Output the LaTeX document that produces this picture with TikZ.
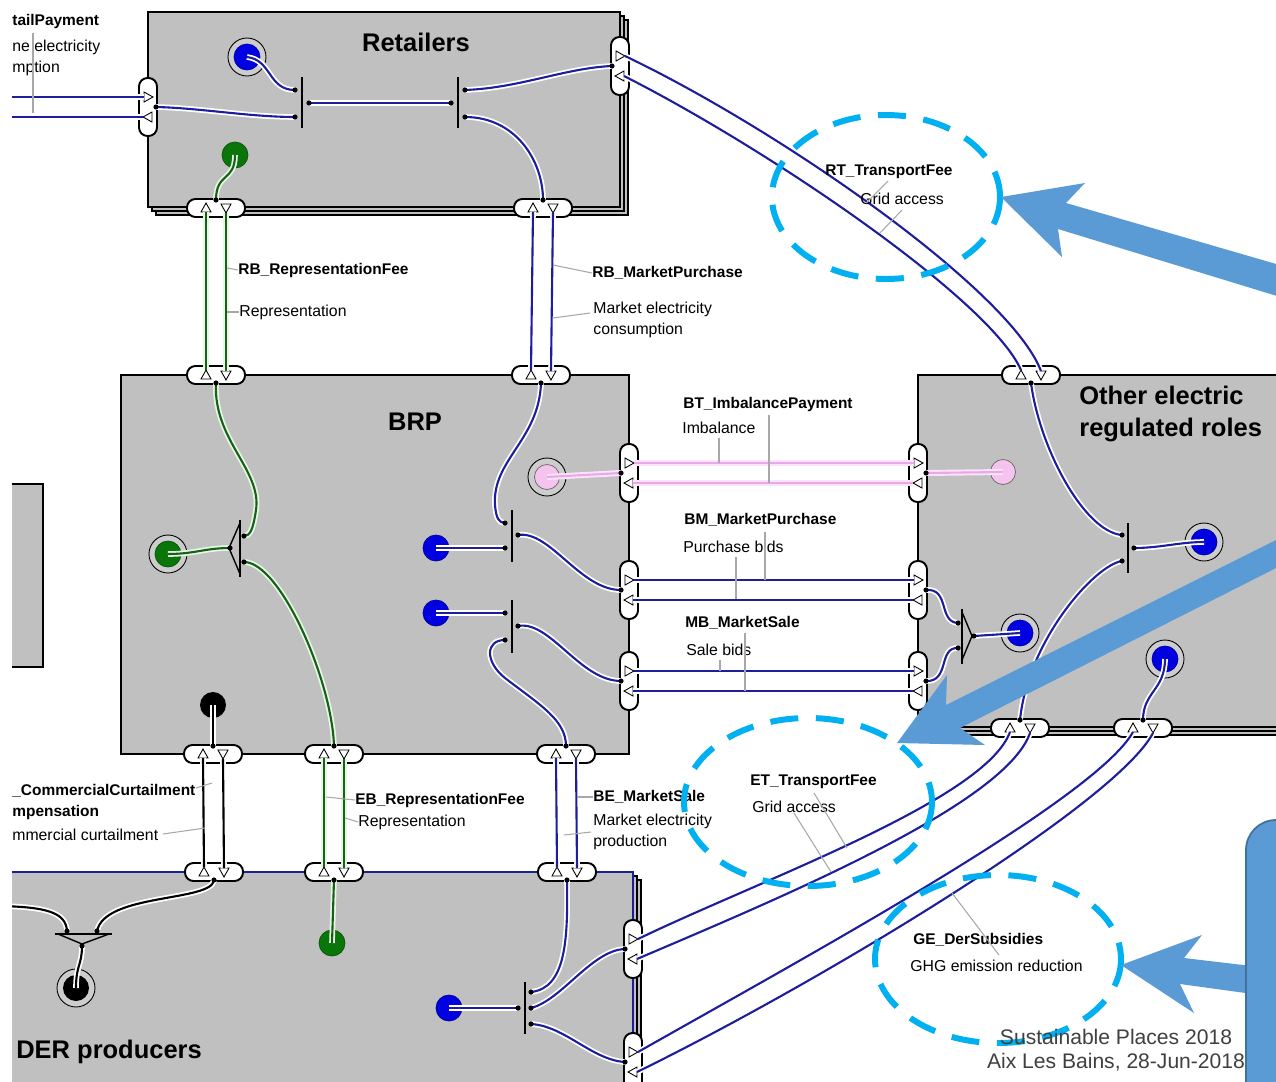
\documentclass[tikz,border=0pt]{standalone}
\usepackage{fontspec}
\setmainfont{Liberation Sans}
\usetikzlibrary{calc}
\definecolor{boxgray}{HTML}{C0C0C0}
\definecolor{ringgray}{HTML}{CDCDCD}
\definecolor{lblue}{HTML}{1E1E9C}
\definecolor{cblue}{HTML}{0000E0}
\definecolor{cgreen}{HTML}{0A760A}
\definecolor{lgreen}{HTML}{1A5E1A}
\definecolor{pgreen}{HTML}{E4F8E4}
\definecolor{cpink}{HTML}{F4C4EE}
\definecolor{lpink}{HTML}{E9A9E9}
\definecolor{ppink}{HTML}{FBE4FB}
\definecolor{ecyan}{HTML}{00B0F0}
\definecolor{abl}{HTML}{5B9BD5}
\definecolor{abd}{HTML}{41719C}
\definecolor{leadc}{HTML}{A8A8A8}
\definecolor{footc}{HTML}{404040}
\newcommand\jd[1]{\fill[black] (#1) circle (2.6);}
\begin{document}
\begin{tikzpicture}[x=0.02cm,y=-0.02cm,
  rolebox/.style={fill=boxgray,draw=black,line width=1.1pt},
  shadowbox/.style={fill=boxgray,draw=black,line width=0.7pt},
  pillh/.style={draw=black,fill=white,line width=1.1pt,rounded corners=0.17cm,minimum width=1.16cm,minimum height=0.36cm,inner sep=0},
  pillv/.style={draw=black,fill=white,line width=1.1pt,rounded corners=0.17cm,minimum width=0.36cm,minimum height=1.16cm,inner sep=0},
  tria/.style={draw=black,fill=white,line width=0.5pt},
  bl/.style={draw=lblue,line width=1.2pt,preaction={draw=white,line width=3.2pt}},
  gl/.style={draw=lgreen,line width=1.2pt,preaction={draw=pgreen,line width=3.2pt}},
  pl/.style={draw=lpink,line width=1.2pt,preaction={draw=ppink,line width=3.4pt}},
  kl/.style={draw=black,line width=1.2pt,preaction={draw=white,line width=3.2pt}},
  ringc/.style={circle,draw=black,line width=0.5pt,fill=ringgray,minimum size=0.76cm,inner sep=0},
  cb/.style={circle,fill=cblue,draw=cblue!70!black,line width=0.4pt,minimum size=0.52cm,inner sep=0},
  cg/.style={circle,fill=cgreen,draw=cgreen!70!black,line width=0.4pt,minimum size=0.52cm,inner sep=0},
  cp/.style={circle,fill=cpink,draw=black!60,line width=0.4pt,minimum size=0.5cm,inner sep=0},
  ck/.style={circle,fill=black,minimum size=0.52cm,inner sep=0},
  jbar/.style={draw=black,line width=0.8pt},
  lab/.style={font=\bfseries\fontsize{8.8}{11.9}\selectfont,inner sep=0,anchor=west},
  sublab/.style={font=\fontsize{9}{11.9}\selectfont,inner sep=0,anchor=west},
  ttl/.style={font=\bfseries\fontsize{14.5}{18.7}\selectfont,inner sep=0},
  leader/.style={draw=leadc,line width=0.6pt},
  ell/.style={draw=ecyan,line width=3.4pt,dash pattern=on 16pt off 10pt},
  hport/.pic={
    \node[pillh] (-p) at (0,0) {};
    \draw[tria] (-15,4) -- (-5,4) -- (-10,-5) -- cycle;
    \draw[tria] (5,-4) -- (15,-4) -- (10,5) -- cycle;
    \coordinate (-n) at (0,-8); \coordinate (-s) at (0,8);
    \coordinate (-ua) at (-10,-5); \coordinate (-da) at (-10,4);
    \coordinate (-ub) at (10,-4); \coordinate (-db) at (10,5);
  },
  vport/.pic={
    \node[pillv] (-p) at (0,0) {};
    \draw[tria] (-4,-15) -- (-4,-5) -- (5,-10) -- cycle;
    \draw[tria] (4,5) -- (4,15) -- (-5,10) -- cycle;
    \coordinate (-w) at (-8,0); \coordinate (-e) at (8,0);
    \coordinate (-la) at (-4,-10); \coordinate (-ra) at (5,-10);
    \coordinate (-lb) at (-5,10); \coordinate (-rb) at (4,10);
  }
]
\useasboundingbox (0,0) rectangle (1276,1082);
\clip (0,0) rectangle (1276,1082);
\fill[white] (0,0) rectangle (1276,1082);

% ---------- boxes ----------
\draw[shadowbox] (156,20) rectangle (628,215);
\draw[shadowbox] (152,16) rectangle (624,211);
\draw[rolebox] (148,12) rectangle (620,207);
\draw[rolebox] (121,375) rectangle (629,754);
\draw[shadowbox] (926,383) rectangle (1300,735);
\draw[shadowbox] (922,379) rectangle (1300,731);
\draw[rolebox] (918,375) rectangle (1300,727);
\draw[shadowbox] (8,880) rectangle (641,1110);
\draw[shadowbox] (4,876) rectangle (637,1110);
\draw[rolebox] (0,872) rectangle (633,1110);
\draw[draw=lblue,line width=1.3pt] (12,872) -- (633,872) -- (633,1100);
\draw[rolebox] (-10,484) rectangle (43,667);

% ---------- circles ----------
\node[ringc] (rc1r) at (247,57) {};   \node[cb] (rc1) at (247,57) {};
\node[cg] (rg1) at (235,155) {};
\node[ringc] (rg2r) at (168,554) {};  \node[cg] (rg2) at (168,554) {};
\node[ringc] (rp1r) at (547,477) {};  \node[cp] (rp1) at (547,477) {};
\node[cb] (bc1) at (436,548) {};
\node[cb] (bc2) at (436,613) {};
\node[ck] (kc1) at (213,705) {};
\node[cp] (pc2) at (1003,472) {};
\node[ringc] (rc2r) at (1204,542) {}; \node[cb] (rc2) at (1204,542) {};
\node[ringc] (rc3r) at (1020,633) {}; \node[cb] (rc3) at (1020,633) {};
\node[ringc] (rc4r) at (1165,659) {}; \node[cb] (rc4) at (1165,659) {};
\node[ringc] (rk2r) at (76,988) {};   \node[ck] (rk2) at (76,988) {};
\node[cg] (gc3) at (332,943) {};
\node[cb] (bc3) at (449,1008) {};

% ---------- ports ----------
\pic (rl) at (148,107) {vport};
\pic (rr) at (620,66) {vport};
\pic (rb1) at (216,208) {hport};
\pic (rb2) at (543,208) {hport};
\pic (bt1) at (216,375) {hport};
\pic (bt2) at (541,375) {hport};
\pic (br1) at (629,473) {vport};
\pic (br2) at (629,590) {vport};
\pic (br3) at (629,681) {vport};
\pic (bb1) at (213,754) {hport};
\pic (bb2) at (334,754) {hport};
\pic (bb3) at (566,754) {hport};
\pic (ot) at (1031,375) {hport};
\pic (ol1) at (918,473) {vport};
\pic (ol2) at (918,590) {vport};
\pic (ol3) at (918,681) {vport};
\pic (ob1) at (1020,728) {hport};
\pic (ob2) at (1143,728) {hport};
\pic (dt1) at (214,872) {hport};
\pic (dt2) at (334,872) {hport};
\pic (dt3) at (567,872) {hport};
\pic (dr1) at (633,949) {vport};
\pic (dr2) at (633,1062) {vport};

% ---------- junction coordinates ----------
\coordinate (j1a) at (295,90);  \coordinate (j1b) at (295,117); \coordinate (j1c) at (309,103);
\coordinate (j2a) at (451,103); \coordinate (j2b) at (465,90);  \coordinate (j2c) at (465,117);
\coordinate (m1a) at (244,536); \coordinate (m1b) at (244,562); \coordinate (m1c) at (230,548);
\coordinate (j3a) at (505,523); \coordinate (j3b) at (505,548); \coordinate (j3c) at (518,535);
\coordinate (j4a) at (505,613); \coordinate (j4b) at (505,640); \coordinate (j4c) at (518,626);
\coordinate (j5a) at (1122,535); \coordinate (j5b) at (1122,561); \coordinate (j5c) at (1134,548);
\coordinate (m2a) at (958,623); \coordinate (m2b) at (958,648); \coordinate (m2c) at (974,636);
\coordinate (m3a) at (67,931);  \coordinate (m3b) at (97,931);  \coordinate (m3c) at (82,946);
\coordinate (j6a) at (518,1008); \coordinate (j6b) at (531,992); \coordinate (j6c) at (531,1008); \coordinate (j6d) at (531,1024);
\coordinate (ext1) at (0,97); \coordinate (ext2) at (0,117); \coordinate (ext3) at (0,906);

% ---------- connectors: Retailers ----------
\draw[bl] (ext1) -- (rl-la);
\draw[bl] (ext2) -- (rl-lb);
\draw[bl] (rc1.center) .. controls (272,60) and (268,90) .. (j1a);
\draw[bl] (rl-e) .. controls (200,108) and (250,117) .. (j1b);
\draw[bl] (j1c) -- (j2a);
\draw[bl] (j2b) .. controls (520,88) and (565,68) .. (rr-w);
\draw[bl] (j2c) .. controls (515,117) and (543,160) .. (rb2-n);
\draw[gl] (rg1.center) .. controls (235,182) and (216,172) .. (rb1-n);
% RB links
\draw[gl] (rb1-da) -- (bt1-ua); \draw[gl] (rb1-db) -- (bt1-ub);
\draw[bl] (rb2-da) -- (bt2-ua); \draw[bl] (rb2-db) -- (bt2-ub);
% RT
\draw[bl] (rr-ra) .. controls (780,130) and (1010,290) .. (ot-ub);
\draw[bl] (rr-rb) .. controls (770,150) and (990,300) .. (ot-ua);
% BRP internal
\draw[gl] (bt1-s) .. controls (213,440) and (262,470) .. (256,510) .. controls (253,530) and (250,536) .. (m1a);
\draw[gl] (m1b) .. controls (280,562) and (332,680) .. (bb2-n);
\draw[gl] (m1c) .. controls (205,548) and (195,554) .. (rg2.center);
\draw[pl] (rp1.center) -- (br1-w);
\draw[bl] (bt2-s) .. controls (539,440) and (492,460) .. (495,505) .. controls (496,518) and (499,523) .. (j3a);
\draw[bl] (bc1.center) -- (j3b);
\draw[bl] (j3c) .. controls (550,530) and (580,590) .. (br2-w);
\draw[bl] (bc2.center) -- (j4a);
\draw[bl] (j4c) .. controls (550,620) and (580,681) .. (br3-w);
\draw[bl] (j4b) .. controls (485,640) and (485,662) .. (505,678) .. controls (540,705) and (566,720) .. (bb3-n);
\draw[kl] (kc1.center) -- (bb1-n);
% BT BM MB
\draw[pl] (br1-ra) -- (ol1-la); \draw[pl] (br1-rb) -- (ol1-lb);
\draw[bl] (br2-ra) -- (ol2-la); \draw[bl] (br2-rb) -- (ol2-lb);
\draw[bl] (br3-ra) -- (ol3-la); \draw[bl] (br3-rb) -- (ol3-lb);
% Other internal
\draw[pl] (ol1-e) -- (pc2.center);
\draw[bl] (ot-s) .. controls (1040,450) and (1085,532) .. (j5a);
\draw[bl] (j5c) .. controls (1160,548) and (1180,542) .. (rc2.center);
\draw[bl] (j5b) .. controls (1095,565) and (1028,640) .. (ob1-n);
\draw[bl] (ol2-e) .. controls (950,588) and (938,622) .. (m2a);
\draw[bl] (ol3-e) .. controls (950,682) and (938,647) .. (m2b);
\draw[bl] (m2c) -- (rc3.center);
\draw[bl] (rc4.center) .. controls (1165,690) and (1143,692) .. (ob2-n);
% ET GE
\draw[bl] (ob1-da) .. controls (985,800) and (760,880) .. (dr1-ra);
\draw[bl] (ob1-db) .. controls (1005,805) and (775,900) .. (dr1-rb);
\draw[bl] (ob2-da) .. controls (1095,800) and (800,960) .. (dr2-ra);
\draw[bl] (ob2-db) .. controls (1115,805) and (815,985) .. (dr2-rb);
% BRP - DER
\draw[kl] (bb1-da) -- (dt1-ua); \draw[kl] (bb1-db) -- (dt1-ub);
\draw[gl] (bb2-da) -- (dt2-ua); \draw[gl] (bb2-db) -- (dt2-ub);
\draw[bl] (bb3-da) -- (dt3-ua); \draw[bl] (bb3-db) -- (dt3-ub);
% DER internal
\draw[kl] (ext3) .. controls (45,907) and (66,912) .. (m3a);
\draw[kl] (dt1-s) .. controls (212,902) and (105,893) .. (m3b);
\draw[kl] (m3c) .. controls (82,965) and (76,965) .. (rk2.center);
\draw[gl] (dt2-s) -- (gc3.center);
\draw[bl] (bc3.center) -- (j6a);
\draw[bl] (j6b) .. controls (566,988) and (568,940) .. (dt3-s);
\draw[bl] (j6c) .. controls (562,1000) and (592,950) .. (dr1-w);
\draw[bl] (j6d) .. controls (565,1026) and (592,1060) .. (dr2-w);

% ---------- junction bars & dots ----------
\draw[jbar] (302,77) -- (302,128);
\draw[jbar] (458,77) -- (458,128);
\draw[jbar] (240,520) -- (240,577);
\draw[jbar] (240,523) -- (229,548) -- (240,574);
\draw[jbar] (512,510) -- (512,562);
\draw[jbar] (512,600) -- (512,653);
\draw[jbar] (1128,523) -- (1128,573);
\draw[jbar] (962,609) -- (962,664);
\draw[jbar] (962,612) -- (972,636) -- (962,660);
\draw[jbar] (55,934) -- (112,934);
\draw[jbar] (58,934) -- (82,944) -- (109,934);
\draw[jbar] (525,982) -- (525,1034);
\foreach \c in {j1a,j1b,j1c,j2a,j2b,j2c,m1a,m1b,m1c,j3a,j3b,j3c,j4a,j4b,j4c,j5a,j5b,j5c,m2a,m2b,m2c,m3a,m3b,m3c,j6a,j6b,j6c,j6d,
  rl-e,rr-w,rb1-n,rb2-n,bt1-s,bt2-s,br1-w,br2-w,br3-w,bb1-n,bb2-n,bb3-n,ot-s,ol1-e,ol2-e,ol3-e,ob1-n,ob2-n,dt1-s,dt2-s,dt3-s,dr1-w,dr2-w}
  {\jd{\c}}

% ---------- titles ----------
\node[ttl] (t-ret) at (416,42) {Retailers};
\node[ttl] (t-brp) at (415,422) {BRP};
\node[ttl,anchor=west,align=left] (t-oth) at (1079,414) {Other electric\\regulated roles};
\node[ttl,anchor=west] (t-der) at (16,1052) {DER producers};

% ---------- labels ----------
\node[lab] (l-tp) at (12,22) {tailPayment};
\node[sublab,align=left] (s-tp) at (12,58) {ne electricity\\mption};
\node[lab] (l-rb1) at (238,270) {RB\_RepresentationFee};
\node[sublab] (s-rb1) at (239,312) {Representation};
\node[lab] (l-rb2) at (592,273) {RB\_MarketPurchase};
\node[sublab,align=left] (s-rb2) at (593,320) {Market electricity\\consumption};
\node[lab] (l-rt) at (825,172) {RT\_TransportFee};
\node[sublab] (s-rt) at (860,199) {Grid access};
\node[lab] (l-bt) at (683,404) {BT\_ImbalancePayment};
\node[sublab] (s-bt) at (682,428) {Imbalance};
\node[lab] (l-bm) at (684,520) {BM\_MarketPurchase};
\node[sublab] (s-bm) at (683,547) {Purchase bids};
\node[lab] (l-mb) at (685,623) {MB\_MarketSale};
\node[sublab] (s-mb) at (686,650) {Sale bids};
\node[lab,align=left] (l-cc) at (12,802) {\_CommercialCurtailment\\mpensation};
\node[sublab] (s-cc) at (12,835) {mmercial curtailment};
\node[lab] (l-eb) at (355,800) {EB\_RepresentationFee};
\node[sublab] (s-eb) at (358,822) {Representation};
\node[lab] (l-be) at (593,797) {BE\_MarketSale};
\node[sublab,align=left] (s-be) at (593,832) {Market electricity\\production};
\node[lab] (l-et) at (750,782) {ET\_TransportFee};
\node[sublab] (s-et) at (752,807) {Grid access};
\node[lab] (l-ge) at (913,940) {GE\_DerSubsidies};
\node[sublab] (s-ge) at (910,966) {GHG emission reduction};

% ---------- leaders ----------
\draw[leader] (33,33) -- (33,113);
\draw[leader] (227,268) -- (l-rb1.west);
\draw[leader] (227,312) -- (s-rb1.west);
\draw[leader] (553,265) -- (l-rb2.west);
\draw[leader] (553,318) -- (590,313);
\draw[leader] (888,181) -- (866,203);
\draw[leader] (902,210) -- (880,233);
\draw[leader] (719,438) -- (719,463);
\draw[leader] (769,415) -- (769,483);
\draw[leader] (736,557) -- (736,599);
\draw[leader] (765,532) -- (765,580);
\draw[leader] (720,660) -- (720,671);
\draw[leader] (745,633) -- (745,691);
\draw[leader] (196,788) -- (212,783);
\draw[leader] (163,834) -- (205,828);
\draw[leader] (326,797) -- (l-eb.west);
\draw[leader] (345,818) -- (s-eb.west);
\draw[leader] (577,797) -- (l-be.west);
\draw[leader] (564,835) -- (591,832);
\draw[leader] (814,793) -- (847,848);
\draw[leader] (794,813) -- (831,872);
\draw[leader] (952,893) -- (999,955);

% ---------- callout ellipses ----------
\draw[ell] (886,197) ellipse [x radius=114, y radius=82];
\draw[ell] (808,802) ellipse [x radius=124, y radius=84];
\draw[ell] (998,959) ellipse [x radius=123, y radius=84];

% ---------- big arrows ----------
\fill[abl] (1001,197) -- (1085,183) -- (1066,203) -- (1290,268) -- (1290,300) -- (1058,229) -- (1062,257) -- cycle;
\fill[abl] (897,743) -- (947,675) -- (946,705) -- (1290,533) -- (1290,561) -- (960,728) -- (985,745) -- cycle;
\fill[abl] (1121,965) -- (1202,935) -- (1184,958) -- (1260,967) -- (1260,995) -- (1180,984) -- (1194,1013) -- cycle;
\draw[fill=abl,draw=abd,line width=1pt,rounded corners=0.6cm] (1246,820) rectangle (1330,1130);

% ---------- footer ----------
\node[font=\fontsize{12}{13.6}\selectfont,text=footc,align=center,inner sep=0] (foot) at (1116,1050) {Sustainable Places 2018\\Aix Les Bains, 28-Jun-2018};

% left crop margin
\fill[white] (0,0) rectangle (12,1082);
\end{tikzpicture}
\end{document}
